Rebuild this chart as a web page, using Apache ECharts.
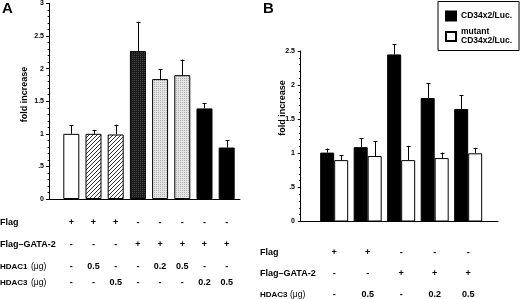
<!DOCTYPE html>
<html><head><meta charset="utf-8">
<script src="https://cdn.jsdelivr.net/npm/echarts@6/dist/echarts.min.js"></script>
<style>html,body{margin:0;padding:0;background:#fff}#c{width:520px;height:299px}</style>
</head><body><div id="c"></div>
<script>
// ---- Panel A data ----
const flagA  = ['+','+','+','-','-','-','-','-'];
const gata2A = ['-','-','-','+','+','+','+','+'];
const hdac1A = ['-','0.5','-','-','0.2','0.5','-','-'];
const hdac3A = ['-','-','0.5','-','-','-','0.2','0.5'];
const valuesA = [1.00, 1.00, 0.99, 2.27, 1.84, 1.90, 1.39, 0.79];
const errA    = [0.13, 0.06, 0.15, 0.45, 0.15, 0.24, 0.08, 0.11];
const yTicksA = ['0','.5','1','1.5','2','2.5','3'];

// ---- Panel B data ----
const flagB  = ['+','+','-','-','-'];
const gata2B = ['-','-','+','+','+'];
const hdac3B = ['-','0.5','-','0.2','0.5'];
const wildB    = [1.01, 1.09, 2.45, 1.81, 1.65];
const wildErrB = [0.06, 0.13, 0.15, 0.22, 0.20];
const mutB     = [0.90, 0.96, 0.90, 0.93, 1.00];
const mutErrB  = [0.07, 0.22, 0.21, 0.08, 0.08];
const yTicksB = ['0','.5','1','1.5','2','2.5'];
const seriesNamesB = ['CD34x2/Luc.', 'mutant CD34x2/Luc.'];

const F = "'Liberation Sans', Arial, Helvetica, sans-serif";

function pattern(size, draw) {
  const c = document.createElement('canvas');
  c.width = c.height = size;
  draw(c.getContext('2d'));
  return { image: c, repeat: 'repeat' };
}
const hatch = pattern(4, ctx => {
  ctx.fillStyle = '#fff'; ctx.fillRect(0,0,4,4);
  ctx.strokeStyle = '#333'; ctx.lineWidth = 1;
  ctx.beginPath();
  ctx.moveTo(0,4); ctx.lineTo(4,0);
  ctx.moveTo(-1,1); ctx.lineTo(1,-1);
  ctx.moveTo(3,5); ctx.lineTo(5,3);
  ctx.stroke();
});
const darkDots = pattern(2, ctx => {
  ctx.fillStyle = '#1a1a1a'; ctx.fillRect(0,0,2,2);
  ctx.fillStyle = '#474747'; ctx.fillRect(0,0,1,1);
});
const lightDots = pattern(2, ctx => {
  ctx.fillStyle = '#e4e4e4'; ctx.fillRect(0,0,2,2);
  ctx.fillStyle = '#b0b0b0'; ctx.fillRect(0,0,1,1);
});
const fillsA = ['#fff', hatch, hatch, darkDots, lightDots, lightDots, '#000', '#000'];

function yAxis(gridIndex, max, ticks) {
  return {
    type: 'value', gridIndex, min: 0, max, interval: 0.5,
    axisLine: { show: true, lineStyle: { color: '#000', width: 1 } },
    axisTick: { show: true, length: 3, lineStyle: { color: '#000' } },
    minorTick: { show: true, splitNumber: 5, length: 1.5, lineStyle: { color: '#000' } },
    splitLine: { show: false }, minorSplitLine: { show: false },
    axisLabel: { formatter: v => ticks[Math.round(v / 0.5)], fontSize: 7, fontWeight: 'bold',
                 color: '#000', fontFamily: F, margin: 4 }
  };
}
function xAxis(gridIndex, min, max) {
  return {
    type: 'value', gridIndex, min, max,
    axisLine: { show: true, onZero: false, lineStyle: { color: '#000', width: 1 } },
    axisTick: { show: false }, axisLabel: { show: false }, splitLine: { show: false }
  };
}
function errSeries(xi, data, off) {
  return {
    type: 'custom', xAxisIndex: xi, yAxisIndex: xi, z: 5, silent: true,
    encode: { x: 0, y: 1 },
    data,
    renderItem: (params, api) => {
      const x = api.value(0), v = api.value(1), e = api.value(2);
      const p0 = api.coord([x, v]), p1 = api.coord([x, v + e]);
      const px = Math.round(p0[0] + off) + 0.5;
      return { type: 'group', children: [
        { type: 'line', shape: { x1: px, y1: p0[1], x2: px, y2: p1[1] }, style: { stroke: '#000', lineWidth: 1 } },
        { type: 'line', shape: { x1: px - 2, y1: Math.round(p1[1]) + 0.5, x2: px + 2, y2: Math.round(p1[1]) + 0.5 }, style: { stroke: '#000', lineWidth: 1 } }
      ]};
    }
  };
}

const chart = echarts.init(document.getElementById('c'), null, { renderer: 'canvas' });
chart.setOption({
  animation: false,
  backgroundColor: '#fff',
  textStyle: { fontFamily: F },
  grid: [
    { left: 48, top: 3, width: 192, height: 196 },
    { left: 299, top: 51, width: 199, height: 170.5 }
  ],
  xAxis: [ xAxis(0, -0.05, 8.6), xAxis(1, -0.05, 5.89) ],
  yAxis: [ yAxis(0, 3, yTicksA), yAxis(1, 2.5, yTicksB) ],
  legend: {
    data: seriesNamesB, orient: 'vertical', left: 438, top: 1.5,
    itemWidth: 10, itemHeight: 9, icon: 'rect', itemGap: 6,
    selectedMode: false,
    formatter: n => n.replace('mutant ', 'mutant\n'),
    textStyle: { fontSize: 8.5, fontWeight: 'bold', fontFamily: F, color: '#000', lineHeight: 9 },
    borderColor: '#000', borderWidth: 1, padding: [9, 7, 5, 7], backgroundColor: '#fff'
  },
  series: [
    {
      type: 'bar', xAxisIndex: 0, yAxisIndex: 0, barWidth: 16,
      itemStyle: { borderColor: '#000', borderWidth: 1 },
      data: valuesA.map((v, i) => ({ value: [i + 1, v], itemStyle: { color: fillsA[i] } }))
    },
    errSeries(0, valuesA.map((v, i) => [i + 1, v, errA[i]]), 0),
    {
      name: seriesNamesB[0], type: 'bar', xAxisIndex: 1, yAxisIndex: 1, barWidth: 14, barGap: '0%',
      itemStyle: { color: '#000', borderColor: '#000', borderWidth: 1 },
      data: wildB.map((v, i) => [i + 1, v])
    },
    {
      name: seriesNamesB[1], type: 'bar', xAxisIndex: 1, yAxisIndex: 1, barWidth: 14, barGap: '0%',
      itemStyle: { color: '#fff', borderColor: '#000', borderWidth: 1 },
      data: mutB.map((v, i) => [i + 1, v])
    },
    errSeries(1, wildB.map((v, i) => [i + 1, v, wildErrB[i]]), -7),
    errSeries(1, mutB.map((v, i) => [i + 1, v, mutErrB[i]]), 7)
  ]
});

// ---- table texts & labels ----
function txt(text, x, y, opts, el) {
  return Object.assign({ type: 'text', silent: true, z: 10, x, y, style: Object.assign({
    text, x: 0, y: 0, fontSize: 9, fontWeight: 'bold', fontFamily: F, fill: '#000',
    align: 'left', verticalAlign: 'middle' }, opts || {}) }, el || {});
}
const g = [];
g.push(txt('A', 2, 9, { fontSize: 15 }));
g.push(txt('B', 263, 9, { fontSize: 15 }));
g.push(txt('fold increase', 25, 94.5, { align: 'center' }, { rotation: Math.PI / 2 }));
g.push(txt('fold increase', 283, 108, { align: 'center' }, { rotation: Math.PI / 2 }));

const rowsA = [
  { label: 'Flag', y: 223, vals: flagA },
  { label: 'Flag\u2013GATA-2', y: 245, vals: gata2A },
  { label: 'HDAC1', unit: '(\u03bcg)', y: 266.5, vals: hdac1A },
  { label: 'HDAC3', unit: '(\u03bcg)', y: 282.5, vals: hdac3A }
];
const rowsB = [
  { label: 'Flag', y: 253, vals: flagB },
  { label: 'Flag\u2013GATA-2', y: 273.5, vals: gata2B },
  { label: 'HDAC3', unit: '(\u03bcg)', y: 295, vals: hdac3B }
];
function addRows(rows, xi, x0, unitX) {
  rows.forEach(r => {
    g.push(txt(r.label, x0, r.y, r.unit ? { fontSize: 8 } : {}));
    if (r.unit) g.push(txt(r.unit, unitX, r.y, { fontWeight: 'normal', fontSize: 8.5 }));
    r.vals.forEach((v, i) => {
      const px = chart.convertToPixel({ xAxisIndex: xi }, i + 1);
      g.push(txt(v, px, r.y, { align: 'center' }));
    });
  });
}
addRows(rowsA, 0, 0, 31);
addRows(rowsB, 1, 260, 290);

chart.setOption({ graphic: g });
</script></body></html>
